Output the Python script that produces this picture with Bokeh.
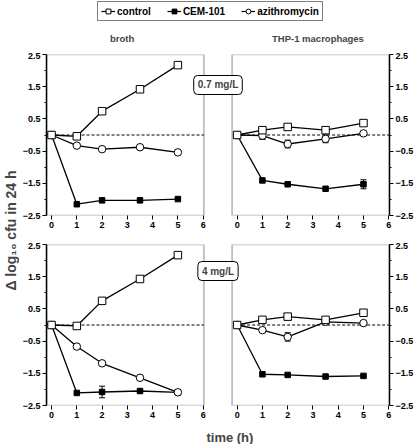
import math
from bokeh.plotting import figure
from bokeh.models import (Range1d, BoxAnnotation, Label, Legend, LegendItem, LinearAxis,
                          FixedTicker, Whisker, TeeHead, ColumnDataSource)
from bokeh.layouts import column, row
from bokeh.transform import dodge
from bokeh.embed import file_html
from bokeh.resources import INLINE

# ---------------- data ----------------
TIMES = [0, 1, 2, 3.5, 5]

broth_07_control = [0, -0.04, 0.74, 1.42, 2.17]
broth_07_cem = [0, -2.15, -2.03, -2.03, -1.99]
broth_07_azi = [0, -0.33, -0.44, -0.38, -0.54]
broth_07_control_err = [0, 0, 0, 0, 0]
broth_07_cem_err = [0, 0, 0, 0, 0]
broth_07_azi_err = [0, 0, 0, 0, 0]

thp_07_control = [0, 0.15, 0.25, 0.15, 0.37]
thp_07_cem = [0, -1.41, -1.53, -1.67, -1.53]
thp_07_azi = [0, -0.02, -0.28, -0.12, 0.05]
thp_07_control_err = [0, 0, 0, 0, 0]
thp_07_cem_err = [0, 0, 0, 0, 0.14]
thp_07_azi_err = [0, 0.12, 0.12, 0.12, 0]

broth_4_control = [0, -0.03, 0.75, 1.43, 2.17]
broth_4_cem = [0, -2.11, -2.08, -2.05, -2.09]
broth_4_azi = [0, -0.67, -1.19, -1.64, -2.09]
broth_4_control_err = [0, 0, 0, 0, 0]
broth_4_cem_err = [0, 0, 0.18, 0, 0]
broth_4_azi_err = [0, 0, 0, 0, 0]

thp_4_control = [0, 0.16, 0.26, 0.16, 0.38]
thp_4_cem = [0, -1.53, -1.55, -1.60, -1.58]
thp_4_azi = [0, -0.16, -0.37, 0.10, 0.06]
thp_4_control_err = [0, 0, 0, 0, 0]
thp_4_cem_err = [0, 0, 0, 0, 0]
thp_4_azi_err = [0, 0, 0.13, 0, 0]

SERIES_NAMES = ["control", "CEM-101", "azithromycin"]
PANEL_TITLES = ["broth", "THP-1 macrophages"]
CONC_LABELS = ["0.7 mg/L", "4 mg/L"]
X_TICKS = [0, 1, 2, 3, 4, 5, 6]
Y_MAJOR = [-2.5, -1.5, -0.5, 0.5, 1.5, 2.5]
Y_MINOR = [-2, -1, 0, 1, 2]
Y_LABEL = "\u0394 log\u2081\u2080 cfu in 24 h"
X_LABEL = "time (h)"

# ---------------- layout constants ----------------
FONT = "Liberation Sans"
XMIN, XMAX = -0.2, 6.03
GAP = 1.115
OFF = XMAX - XMIN + GAP
YMIN, YMAX = -2.5, 2.5
TITLE_X = [2.85, 3.1]

STYLES = {
    "control": dict(marker="square", size=7.5, fill_color="white"),
    "CEM-101": dict(marker="square", size=5.5, fill_color="black"),
    "azithromycin": dict(marker="circle", size=7.5, fill_color="white"),
}
DRAW_ORDER = ["CEM-101", "azithromycin", "control"]

xr = Range1d(XMIN, XMAX + OFF)
YL_W = 19
ROW_W = 397
LEFT_B = 24
RIGHT_B = 23
HDR_H = 52
FTR_H = 17


def style_axis(ax):
    ax.axis_line_width = 1.5
    ax.axis_line_color = "black"
    ax.major_tick_in = 0
    ax.major_tick_out = 4
    ax.minor_tick_in = 0
    ax.minor_tick_out = 2
    ax.major_tick_line_color = "black"
    ax.minor_tick_line_color = "black"
    ax.major_label_standoff = 2
    ax.major_label_text_font = FONT
    ax.major_label_text_font_size = "9px"
    ax.major_label_text_font_style = "bold"
    ax.major_label_text_color = "black"


def make_row(height, top, bottom, panels, conc_text, conc_y):
    p = figure(width=ROW_W, height=height, x_range=xr, y_range=Range1d(YMIN, YMAX),
               output_backend="svg", toolbar_location=None,
               x_axis_type=None, y_axis_type=None,
               min_border_left=0, min_border_right=0,
               min_border_top=top, min_border_bottom=bottom,
               outline_line_color=None, background_fill_color="white")
    yt = FixedTicker(ticks=Y_MAJOR, minor_ticks=Y_MINOR)
    ly = LinearAxis(ticker=yt)
    ry = LinearAxis(ticker=yt)
    style_axis(ly)
    style_axis(ry)
    p.add_layout(ly, "left")
    p.add_layout(ry, "right")

    xt_vals = [t for t in X_TICKS] + [t + OFF for t in X_TICKS]
    overrides = {}
    for t in X_TICKS:
        overrides[float(t)] = str(t)
        overrides[float(t + OFF)] = str(t)
    xa = LinearAxis(ticker=FixedTicker(ticks=xt_vals, minor_ticks=[]),
                    major_label_overrides=overrides)
    style_axis(xa)
    xa.axis_line_color = None
    p.add_layout(xa, "below")

    for k, (data, errs) in enumerate(panels):
        o = 0 if k == 0 else OFF
        p.add_layout(BoxAnnotation(left=XMIN + o, right=XMAX + o, bottom=YMIN, top=YMAX,
                                   fill_color=None, fill_alpha=0,
                                   line_color="black", line_width=1.5))
        zsrc = ColumnDataSource(dict(x=[0, XMAX], y=[0, 0]))
        p.line(x=dodge("x", o), y="y", source=zsrc, line_color="black",
               line_width=1, line_dash="3 2")
        for name in DRAW_ORDER:
            ys = data[name]
            es = errs[name]
            ex = [t for t, e in zip(TIMES, es) if e > 0]
            if ex:
                up = [y + e for y, e in zip(ys, es) if e > 0]
                lo = [y - e for y, e in zip(ys, es) if e > 0]
                esrc = ColumnDataSource(dict(x=ex, upper=up, lower=lo))
                p.add_layout(Whisker(source=esrc, base=dodge("x", o), upper="upper", lower="lower",
                                     line_color="black", line_width=1,
                                     upper_head=TeeHead(size=6, line_color="black", line_width=1),
                                     lower_head=TeeHead(size=6, line_color="black", line_width=1),
                                     level="underlay"))
            src = ColumnDataSource(dict(x=TIMES, y=ys))
            p.line(x=dodge("x", o), y="y", source=src, line_color="black", line_width=1.3)
            st = STYLES[name]
            p.scatter(x=dodge("x", o), y="y", source=src, marker=st["marker"], size=st["size"],
                      fill_color=st["fill_color"], line_color="black", line_width=1)

    p.add_layout(Label(x=(XMAX + XMIN + OFF) / 2, y=conc_y, text=conc_text,
                       text_align="center", text_baseline="middle",
                       text_font=FONT, text_font_size="10px", text_font_style="bold",
                       border_line_color="black", border_line_width=1,
                       background_fill_color="white", padding=4, border_radius=4))
    return p


panels_top = [
    (dict(zip(SERIES_NAMES, [broth_07_control, broth_07_cem, broth_07_azi])),
     dict(zip(SERIES_NAMES, [broth_07_control_err, broth_07_cem_err, broth_07_azi_err]))),
    (dict(zip(SERIES_NAMES, [thp_07_control, thp_07_cem, thp_07_azi])),
     dict(zip(SERIES_NAMES, [thp_07_control_err, thp_07_cem_err, thp_07_azi_err]))),
]
panels_bot = [
    (dict(zip(SERIES_NAMES, [broth_4_control, broth_4_cem, broth_4_azi])),
     dict(zip(SERIES_NAMES, [broth_4_control_err, broth_4_cem_err, broth_4_azi_err]))),
    (dict(zip(SERIES_NAMES, [thp_4_control, thp_4_cem, thp_4_azi])),
     dict(zip(SERIES_NAMES, [thp_4_control_err, thp_4_cem_err, thp_4_azi_err]))),
]

fig1 = make_row(190, 2, 27, panels_top, CONC_LABELS[0], 1.553)
fig2 = make_row(185, 2, 22, panels_bot, CONC_LABELS[1], 1.677)


def strip_fig(h):
    return figure(width=YL_W + ROW_W, height=h, x_range=xr, y_range=Range1d(0, h),
                  output_backend="svg", toolbar_location=None,
                  x_axis_type=None, y_axis_type=None, outline_line_color=None,
                  min_border_left=YL_W + LEFT_B, min_border_right=RIGHT_B,
                  min_border_top=0, min_border_bottom=0)


# ---------------- header: legend + panel titles ----------------
hdr = strip_fig(HDR_H)
items = []
legend_data = dict(zip(SERIES_NAMES, [broth_07_control, broth_07_cem, broth_07_azi]))
for name in SERIES_NAMES:
    st = STYLES[name]
    hsrc = ColumnDataSource(dict(x=TIMES, y=legend_data[name]))
    lr = hdr.line(x="x", y="y", source=hsrc, line_color="black", line_width=1.2, visible=False)
    sr = hdr.scatter(x="x", y="y", source=hsrc, marker=st["marker"], size=st["size"],
                     fill_color=st["fill_color"], line_color="black", line_width=1, visible=False)
    items.append(LegendItem(label=name, renderers=[lr, sr]))
legend = Legend(items=items, orientation="horizontal", location=(54, HDR_H - 21),
                glyph_width=14, glyph_height=12, label_standoff=2, spacing=16,
                padding=3, margin=0, label_height=12,
                label_text_font=FONT, label_text_font_size="10px",
                label_text_font_style="bold", label_text_color="black",
                border_line_color="black", border_line_width=1,
                background_fill_color="white")
hdr.add_layout(legend, "center")
for k, t in enumerate(PANEL_TITLES):
    hdr.add_layout(Label(x=TITLE_X[k] + (0 if k == 0 else OFF), y=HDR_H - 38, text=t,
                         text_align="center", text_baseline="middle",
                         text_font=FONT, text_font_size="9.5px", text_font_style="bold"))

# ---------------- footer: x label ----------------
ftr = strip_fig(FTR_H)
ftr.add_layout(Label(x=7.03, y=FTR_H - 10, text=X_LABEL, text_align="center",
                     text_baseline="middle", text_font=FONT, text_font_size="13px",
                     text_font_style="bold"))

# ---------------- y label ----------------
YL_H = 190 + 185
ylab = figure(width=YL_W, height=YL_H, x_range=Range1d(0, YL_W), y_range=Range1d(0, YL_H),
              output_backend="svg", toolbar_location=None,
              x_axis_type=None, y_axis_type=None, outline_line_color=None,
              min_border_left=0, min_border_right=0, min_border_top=0, min_border_bottom=0)
ylab.add_layout(Label(x=10, y=HDR_H + YL_H - 230, text=Y_LABEL, angle=math.pi / 2,
                      text_align="center", text_baseline="middle", text_font=FONT,
                      text_font_size="14px", text_font_style="bold"))

layout = column(hdr, row(ylab, column(fig1, fig2)), ftr)

with open("out.html", "w") as f:
    f.write(file_html(layout, INLINE))
